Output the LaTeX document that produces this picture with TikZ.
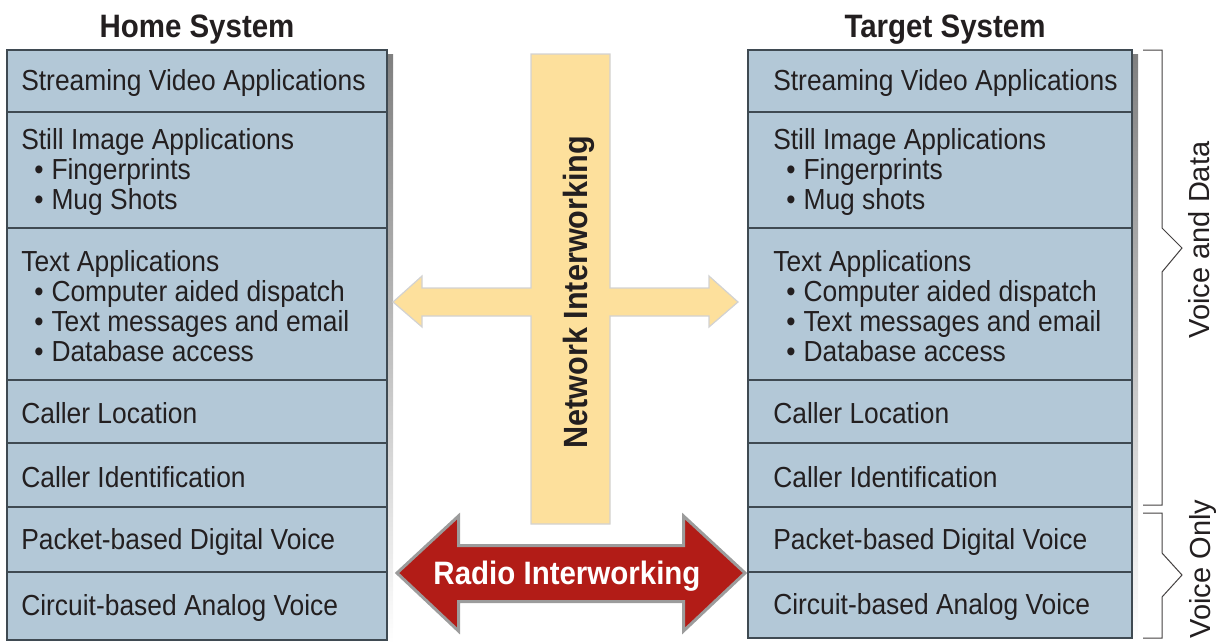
\documentclass[tikz,border=0pt]{standalone}
\usepackage{fontspec}
\setmainfont{Liberation Sans}[FakeStretch=0.91]
\newfontfamily\sidefont{Liberation Sans}
\usetikzlibrary{positioning, calc, backgrounds}

\definecolor{cellblue}{HTML}{B3C8D7}
\definecolor{celledge}{HTML}{3F4A52}
\definecolor{shade}{HTML}{8E8E8E}
\definecolor{netyellow}{HTML}{FDE09C}
\definecolor{netedge}{HTML}{D2D2D2}
\definecolor{radiored}{HTML}{B21C17}
\definecolor{radioedge}{HTML}{9C9C9C}
\definecolor{ink}{HTML}{231F20}

\newcommand{\bul}{\hspace*{3.25mm}\textbullet\hspace{2mm}}

\begin{document}
\begin{tikzpicture}[x=0.25mm, y=-0.25mm, node distance=0pt]
    \tikzstyle{cell} = [rectangle, draw=celledge, line width=0.3mm, fill=cellblue, minimum width=95mm, inner sep=0pt, outer sep=0pt]
    \tikzstyle{cellR} = [cell, minimum width=96mm]
    \tikzstyle{txt} = [inner sep=0pt, align=left, text=ink, yshift=-0.5mm, font=\fontsize{7.25mm}{7.5mm}\selectfont]
    \tikzstyle{head} = [inner sep=0pt, text=ink, font=\bfseries\fontsize{8.1mm}{9mm}\selectfont]
    \tikzstyle{side} = [inner sep=0pt, text=ink, rotate=90, font=\sidefont\fontsize{7.25mm}{8mm}\selectfont]
    \tikzstyle{brace} = [draw=ink!85, line width=0.25mm]

    \useasboundingbox (0,0) rectangle (1225,643);

    % home system
    \node (hvideo) [cell, minimum height=15.5mm, anchor=north west] at (7,50) {};
    \node (hstill) [cell, minimum height=29mm, below=of hvideo] {};
    \node (htext) [cell, minimum height=38mm, below=of hstill] {};
    \node (hloc) [cell, minimum height=15.75mm, below=of htext] {};
    \node (hid) [cell, minimum height=16mm, below=of hloc] {};
    \node (hpacket) [cell, minimum height=16.25mm, below=of hid] {};
    \node (hcircuit) [cell, minimum height=17mm, below=of hpacket] {};

    \node (hvideot) [txt, right=3.5mm of hvideo.west] {Streaming Video Applications};
    \node (hstillt) [txt, right=3.5mm of hstill.west] {Still Image Applications\\\bul Fingerprints\\\bul Mug Shots};
    \node (htextt) [txt, right=3.5mm of htext.west] {Text Applications\\\bul Computer aided dispatch\\\bul Text messages and email\\\bul Database access};
    \node (hloct) [txt, right=3.5mm of hloc.west] {Caller Location};
    \node (hidt) [txt, right=3.5mm of hid.west] {Caller Identification};
    \node (hpackett) [txt, right=3.5mm of hpacket.west] {Packet-based Digital Voice};
    \node (hcircuitt) [txt, right=3.5mm of hcircuit.west] {Circuit-based Analog Voice};

    \node (htitle) [head, anchor=base] at ($(hvideo.north)+(0,-13)$) {Home System};

    % target system
    \node (tvideo) [cellR, minimum height=15.5mm, anchor=north west] at (748,50) {};
    \node (tstill) [cellR, minimum height=29mm, below=of tvideo] {};
    \node (ttext) [cellR, minimum height=38mm, below=of tstill] {};
    \node (tloc) [cellR, minimum height=15.75mm, below=of ttext] {};
    \node (tid) [cellR, minimum height=16mm, below=of tloc] {};
    \node (tpacket) [cellR, minimum height=16.25mm, below=of tid] {};
    \node (tcircuit) [cellR, minimum height=16.5mm, below=of tpacket] {};

    \node (tvideot) [txt, right=6.25mm of tvideo.west] {Streaming Video Applications};
    \node (tstillt) [txt, right=6.25mm of tstill.west] {Still Image Applications\\\bul Fingerprints\\\bul Mug shots};
    \node (ttextt) [txt, right=6.25mm of ttext.west] {Text Applications\\\bul Computer aided dispatch\\\bul Text messages and email\\\bul Database access};
    \node (tloct) [txt, right=6.25mm of tloc.west] {Caller Location};
    \node (tidt) [txt, right=6.25mm of tid.west] {Caller Identification};
    \node (tpackett) [txt, right=6.25mm of tpacket.west] {Packet-based Digital Voice};
    \node (tcircuitt) [txt, right=6.25mm of tcircuit.west] {Circuit-based Analog Voice};

    \node (ttitle) [head, anchor=base] at ($(tvideo.north)+(5,-13)$) {Target System};

    % drop shadows
    \begin{scope}[on background layer]
        \fill [shade] ($(hvideo.north west)+(6,4)$) rectangle ($(hcircuit.south east)+(6,4)$);
        \fill [shade] ($(tvideo.north west)+(6,4)$) rectangle ($(tcircuit.south east)+(6,4)$);
    \end{scope}

    % network interworking
    \draw [draw=netedge, fill=netyellow, line width=0.3mm] (531,54) -- (610,54) -- (610,288) -- (709,288) -- (709,276) -- (738,302) -- (709,327) -- (709,316) -- (610,316) -- (610,524) -- (531,524) -- (531,316) -- (422,316) -- (422,327) -- (393,302) -- (422,276) -- (422,288) -- (531,288) -- cycle;
    \node (net) [head, rotate=90, font=\bfseries\fontsize{8.4mm}{9mm}\selectfont] at (579,292) {Network Interworking};

    % radio interworking
    \draw [draw=radioedge, fill=radiored, line width=0.75mm] (397,573) -- (458.5,516) -- (458.5,545.5) -- (683.5,545.5) -- (683.5,516) -- (745,573) -- (683.5,631) -- (683.5,601.5) -- (458.5,601.5) -- (458.5,631) -- cycle;
    \node (radio) [head, text=white] at (567,576) {Radio Interworking};

    % braces
    \draw [brace] (1143,50) -- (1162,50) -- (1162,228) -- (1182,248) -- (1162,272) -- (1162,505) -- (1143,505);
    \draw [brace] (1143,513) -- (1162,513) -- (1162,553) -- (1182,575) -- (1162,597) -- (1162,638) -- (1143,638);
    \node (data) [side] at (1199.5,240) {Voice and Data};
    \node (voice) [side] at (1202.5,569) {Voice Only};
\end{tikzpicture}
\end{document}
